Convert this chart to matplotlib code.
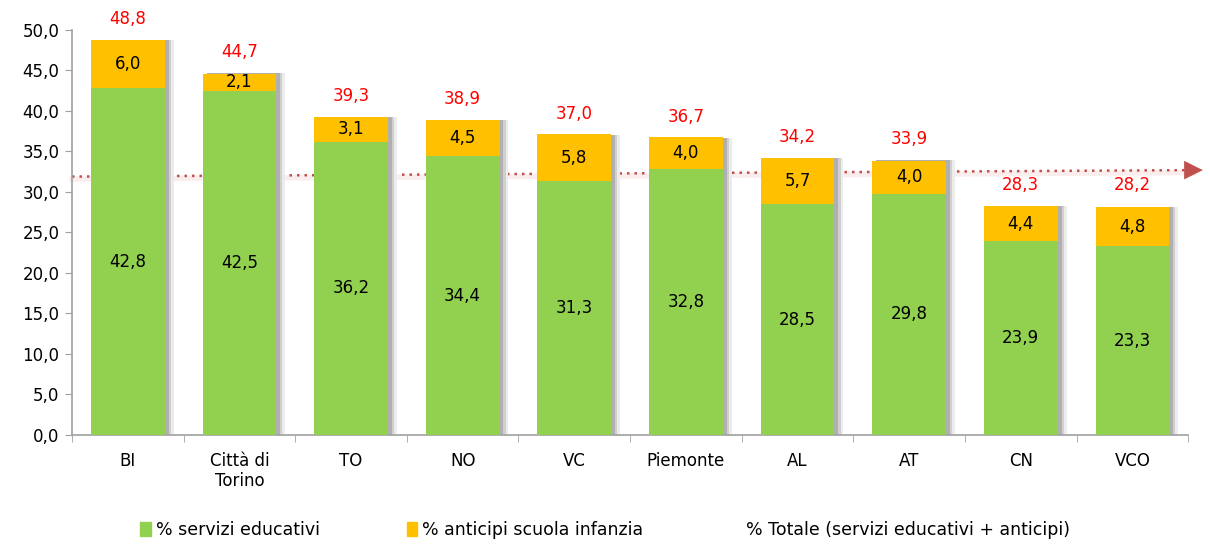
import matplotlib.pyplot as plt
from matplotlib.patches import Patch
from matplotlib.lines import Line2D
import numpy as np

# Dati
categorie = ['BI', 'Città di\nTorino', 'TO', 'NO', 'VC', 'Piemonte', 'AL', 'AT', 'CN', 'VCO']
servizi = [42.8, 42.5, 36.2, 34.4, 31.3, 32.8, 28.5, 29.8, 23.9, 23.3]
anticipi = [6.0, 2.1, 3.1, 4.5, 5.8, 4.0, 5.7, 4.0, 4.4, 4.8]
totale = [48.8, 44.7, 39.3, 38.9, 37.0, 36.7, 34.2, 33.9, 28.3, 28.2]
riferimento = [31.9, 32.7]  # linea tratteggiata (inizio, fine)

verde = '#92D050'
arancio = '#FFC000'

plt.rcParams['font.family'] = ['DejaVu Sans']

fig = plt.figure(figsize=(12.1, 5.49), dpi=100)
ax = fig.add_axes([0.0595, 0.2077, 0.9225, 0.7377])

x = np.arange(len(categorie))
w = 0.66

# linea di riferimento con freccia (dietro le barre)
ax.plot([-0.5, 9.55], [riferimento[0] - 0.3, riferimento[1] - 0.3], color='#F4D4D4', lw=4,
        alpha=0.4, zorder=1, clip_on=False)
ax.plot([-0.5, 9.55], riferimento, color='#C0504D', lw=1.8, ls=(0, (1, 2)), zorder=1.5, clip_on=False)
ax.annotate('', xy=(9.655, riferimento[1]), xytext=(9.54, riferimento[1]),
            arrowprops=dict(arrowstyle='-|>,head_length=0.9,head_width=0.45', color='#C0504D',
                            lw=0.5, mutation_scale=14),
            annotation_clip=False, zorder=1.5)

# ombre delle barre
ax.bar(x + 0.08, totale, w, color='#ececec', zorder=2)
ax.bar(x + 0.055, totale, w, color='#d0d0d0', zorder=2.05)
ax.bar(x + 0.035, totale, w, color='#b0b0b0', zorder=2.1)

ax.bar(x, servizi, w, color=verde, zorder=3)
ax.bar(x, anticipi, w, bottom=servizi, color=arancio, zorder=3)

def fmt(v):
    return f'{v:.1f}'.replace('.', ',')

for i in range(len(x)):
    ax.text(x[i], servizi[i] / 2, fmt(servizi[i]), ha='center', va='center', fontsize=12, zorder=5)
    ax.text(x[i], servizi[i] + anticipi[i] / 2, fmt(anticipi[i]), ha='center', va='center',
            fontsize=12, zorder=5)
    ax.text(x[i], totale[i] + 2.6, fmt(totale[i]), ha='center', va='center', fontsize=12,
            color='#FF0000', zorder=5, clip_on=False)

ax.set_xlim(-0.5, 9.5)
ax.set_ylim(0, 50)
ax.set_yticks(np.arange(0, 51, 5))
ax.set_yticklabels([fmt(v) for v in np.arange(0, 51, 5)], fontsize=12)
ax.set_xticks(x)
ax.set_xticklabels(categorie, fontsize=12)
ax.tick_params(axis='x', length=0, pad=12)
ax.set_xticks(np.arange(-0.5, 10, 1), minor=True)
ax.tick_params(axis='x', which='minor', length=5, color='#a0a0a0')
ax.tick_params(axis='y', length=5, color='#a0a0a0', pad=4)

for s in ['top', 'right']:
    ax.spines[s].set_visible(False)
for s in ['left', 'bottom']:
    ax.spines[s].set_color('#a0a0a0')
    ax.spines[s].set_linewidth(1.2)

handles = [Patch(color=verde), Patch(color=arancio), Line2D([], [], color='none')]
labels = ['% servizi educativi', '% anticipi scuola infanzia',
          '% Totale (servizi educativi + anticipi)']
fig.legend(handles, labels, loc='lower center', bbox_to_anchor=(0.5, -0.01), ncol=3,
           frameon=False, fontsize=12.5, handlelength=0.6, handleheight=0.9,
           handletextpad=0.3, columnspacing=5)

fig.savefig('out.png', dpi=100)
